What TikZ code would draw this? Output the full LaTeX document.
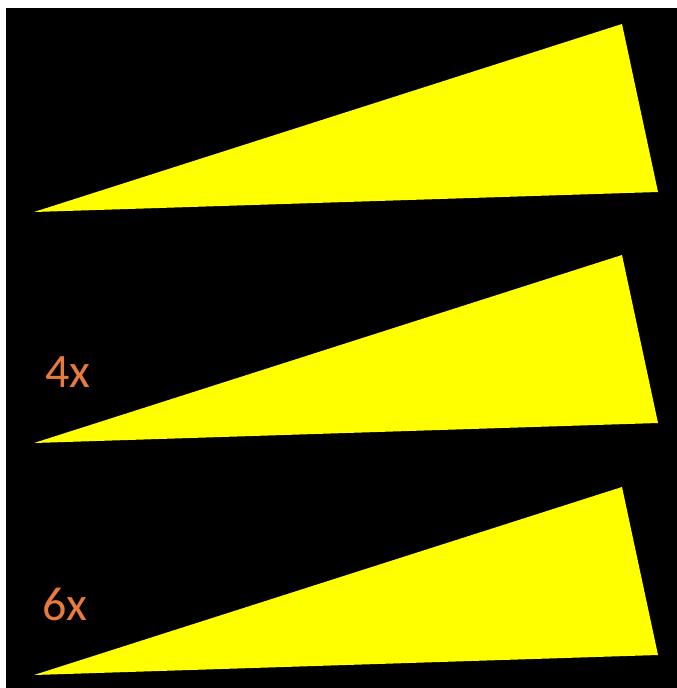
\documentclass[tikz,border=0pt]{standalone}
\usepackage{fontspec}
\setmainfont{Carlito}
\usepackage{tikz}
\usetikzlibrary{positioning}
\definecolor{wedgeyellow}{RGB}{255,255,0}
\definecolor{labelorange}{RGB}{232,122,62}

\begin{document}
\begin{tikzpicture}[x=1pt, y=-1pt,
  wedge/.style={fill=wedgeyellow, draw=none},
  factor/.style={text=labelorange, font=\fontsize{48}{54}\selectfont, inner sep=0pt}]
  \useasboundingbox (0,0) rectangle (677,688);
  \fill[black] (6,8) rectangle (677,688);
  % three wedges, same shape, stacked
  \foreach \dy in {0,231,463} {
    \fill[wedge] (34,212+\dy) -- (622,24+\dy) -- (658,192+\dy) -- cycle;
  }
  \node[factor] (four) at (68,372) {4x};
  \node[factor] (six) at (65,604) {6x};
\end{tikzpicture}
\end{document}
